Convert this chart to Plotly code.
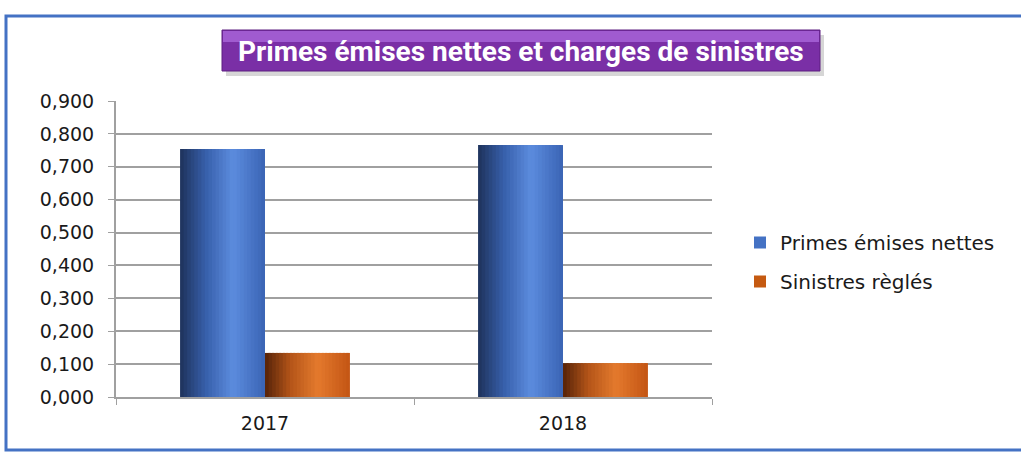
import plotly.graph_objects as go

categories = ["2017", "2018"]
series_names = ["Primes émises nettes", "Sinistres règlés"]
primes = [0.754, 0.766]
sinistres = [0.134, 0.103]
y_ticks = [0.0, 0.1, 0.2, 0.3, 0.4, 0.5, 0.6, 0.7, 0.8, 0.9]

def lerp(c1, c2, t):
    return tuple(int(round(a + (b - a) * t)) for a, b in zip(c1, c2))

def gradient(stops, t):
    for i in range(len(stops) - 1):
        p0, c0 = stops[i]
        p1, c1 = stops[i + 1]
        if p0 <= t <= p1:
            return "rgb(%d,%d,%d)" % lerp(c0, c1, (t - p0) / (p1 - p0))
    return "rgb(%d,%d,%d)" % stops[-1][1]

blue_stops = [(0.0, (30, 50, 90)), (0.3, (55, 95, 170)), (0.62, (92, 140, 222)), (1.0, (58, 100, 180))]
orange_stops = [(0.0, (85, 35, 8)), (0.3, (180, 85, 25)), (0.62, (228, 122, 45)), (1.0, (195, 85, 20))]

bar_w = 0.285
N = 24
fig = go.Figure()
for values, stops, start, name, legcolor in [
    (primes, blue_stops, -bar_w, series_names[0], "#4472c4"),
    (sinistres, orange_stops, 0.0, series_names[1], "#c55a11"),
]:
    sw = bar_w / N
    for i in range(N):
        t = (i + 0.5) / N
        w = sw * 1.6 if i < N - 1 else sw
        fig.add_trace(go.Bar(
            x=categories, y=values, offset=start + i * sw, width=w,
            marker=dict(color=gradient(stops, t), line=dict(width=0)),
            showlegend=False, hoverinfo="skip"))
    fig.add_trace(go.Bar(
        x=categories, y=[None, None], name=name,
        marker=dict(color=legcolor, line=dict(width=0)), showlegend=True,
        legendgroup=name))

L, R, T, B = 116, 712, 101, 397
W, H = 1021, 452
pw, ph = R - L, B - T
def px(x):
    return (x - L) / pw
def py(y):
    return (B - y) / ph

fig.update_layout(
    width=W, height=H,
    margin=dict(l=L, r=W - R, t=T, b=H - B, pad=0),
    paper_bgcolor="white", plot_bgcolor="white",
    barmode="overlay",
    separators=", ",
    font=dict(family="DejaVu Sans", color="#1a1a1a"),
    xaxis=dict(type="category", range=[-0.5, 1.5], showline=True, linecolor="#a0a0a0",
               linewidth=2, ticks="outside", tickson="boundaries", ticklen=6,
               tickcolor="#a0a0a0", tickwidth=1, tickfont=dict(size=19, color="#1a1a1a"),
               ticklabelstandoff=8, showgrid=False, fixedrange=True),
    yaxis=dict(range=[0, 0.9], tickvals=y_ticks, tickformat=".3f", showline=True,
               linecolor="#a0a0a0", linewidth=2, ticks="outside", ticklen=6,
               tickcolor="#a0a0a0", tickwidth=1, showgrid=True, gridcolor="#a0a0a0",
               gridwidth=2, tickfont=dict(size=19, color="#1a1a1a"), zeroline=False,
               ticklabelstandoff=10, fixedrange=True),
    legend=dict(x=px(740), y=py(262), xanchor="left", yanchor="middle",
                font=dict(size=20, color="#1a1a1a"), tracegroupgap=10, itemwidth=30,
                bgcolor="rgba(0,0,0,0)"),
    shapes=[
        dict(type="rect", xref="paper", yref="paper", x0=px(6), x1=px(1030), y0=py(16), y1=py(450),
             line=dict(color="#4472c4", width=3), layer="below"),
        dict(type="rect", xref="paper", yref="paper", x0=px(226), x1=px(824), y0=py(35), y1=py(76),
             fillcolor="rgba(120,120,120,0.30)", line=dict(width=0), layer="below"),
        dict(type="rect", xref="paper", yref="paper", x0=px(222), x1=px(820), y0=py(30), y1=py(71),
             fillcolor="#7a2fa6", line=dict(color="#5c1f80", width=1), layer="below"),
        dict(type="rect", xref="paper", yref="paper", x0=px(223), x1=px(819), y0=py(31), y1=py(42),
             fillcolor="#a05bd0", line=dict(width=0), layer="below"),
    ],
    annotations=[
        dict(text="<b>Primes émises nettes et charges de sinistres</b>", xref="paper", yref="paper",
             x=px(521), y=py(51), xanchor="center", yanchor="middle", showarrow=False,
             font=dict(family="Roboto", size=28, color="white")),
    ],
)

fig.write_html("out.html", config={"displayModeBar": False},
               post_script="document.body.style.margin='0';")
